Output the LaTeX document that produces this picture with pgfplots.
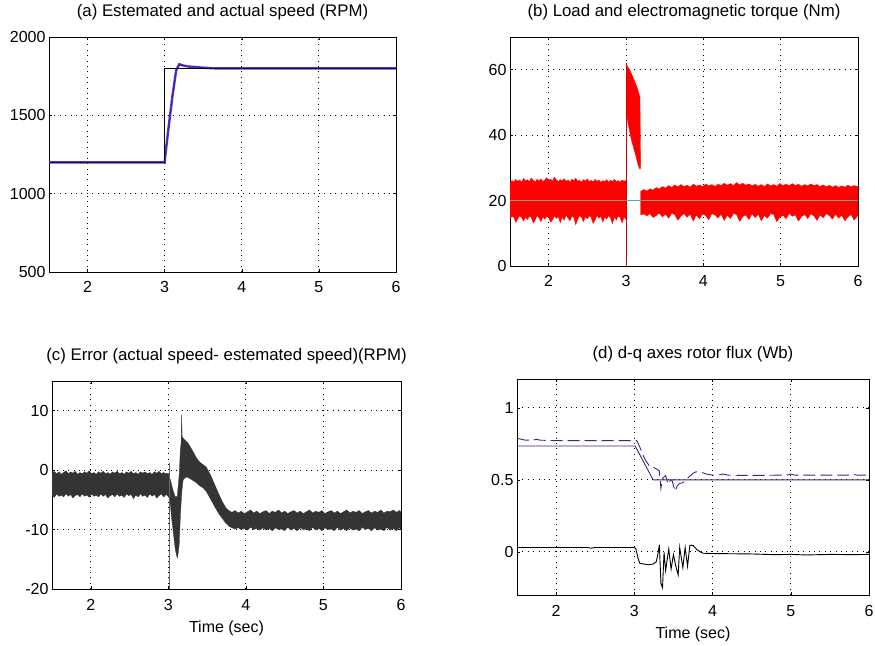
\documentclass[border=0pt]{standalone}
\usepackage{fontspec}
\setmainfont{Liberation Sans}
\usepackage{pgfplots}
\pgfplotsset{compat=1.18}
\definecolor{spd}{RGB}{95,45,205}
\definecolor{est}{RGB}{40,40,150}
\definecolor{loadc}{RGB}{95,165,165}
\definecolor{errc}{RGB}{52,52,52}
\definecolor{fluxc}{RGB}{45,45,130}
\newcommand{\fs}{\fontsize{16}{19}\selectfont}
\newcommand{\ft}{\fontsize{16.8}{20}\selectfont}
\pgfplotsset{
  matlab/.style={
    scale only axis,
    anchor=south west,
    font=\fs,
    tick label style={font=\fs},
    xmin=1.5, xmax=6,
    xtick={2,3,4,5,6},
    xticklabels={2,3,4,5,6},
    xticklabel style={anchor=base, yshift=-21pt},
    grid=major,
    grid style={black, line width=0.8pt, dash pattern=on 0.8pt off 4.6pt},
    tick align=inside,
    major tick length=3pt,
    tick style={black, line width=0.5pt},
    axis line style={black, line width=0.6pt},
    title style={at={(0.5,1)}, anchor=base, yshift=14pt, font=\ft},
    xlabel style={at={(0.5,0)}, anchor=base, yshift=-43pt, font=\fs},
  }
}
\begin{document}
\begin{tikzpicture}[x=1pt,y=1pt]
\useasboundingbox (0,0) rectangle (875,645);
% (a)
\begin{axis}[matlab, at={(49pt,373pt)}, width=347pt, height=235pt,
  ymin=500, ymax=2000, ytick={500,1000,1500,2000},
  yticklabels={500,1000,1500,2000},
  title={(a) Estemated and actual speed (RPM)}]
\addplot[spd, line width=2.4pt] coordinates {
(1.5,1200)(3.0,1200)(3.01,1250)(3.05,1420)(3.10,1620)(3.15,1790)(3.19,1826)(3.24,1818)(3.30,1812)(3.40,1808)(3.50,1804)(3.65,1800)(6.0,1800)};
\addplot[black, line width=0.7pt] coordinates {(1.5,1200)(3.0,1200)(3.0,1800)(6.0,1800)};
\addplot[est, line width=0.8pt, dash pattern=on 3pt off 1pt] coordinates {
(1.5,1200)(3.0,1200)(3.01,1250)(3.05,1420)(3.10,1620)(3.15,1790)(3.19,1826)(3.24,1818)(3.30,1812)(3.40,1808)(3.50,1804)(3.65,1800)(6.0,1800)};
\end{axis}
% (b)
\begin{axis}[matlab, at={(510pt,379pt)}, width=348pt, height=229pt,
  ymin=0, ymax=70, ytick={0,20,40,60}, yticklabels={0,20,40,60},
  title={(b) Load and electromagnetic torque (Nm)}]
\addplot[fill=red, draw=red, line width=0.3pt] coordinates {
(1.500,25.4)(1.525,26.1)(1.550,25.7)(1.575,26.5)(1.600,25.9)(1.625,26.3)(1.650,25.6)(1.675,26.8)(1.700,26.0)(1.725,26.4)
(1.750,25.8)(1.775,26.9)(1.800,26.2)(1.825,25.7)(1.850,26.5)(1.875,26.0)(1.900,26.6)(1.925,25.8)(1.950,26.3)(1.975,27.0)
(2.000,26.1)(2.025,26.6)(2.050,25.9)(2.075,27.2)(2.100,26.3)(2.125,25.8)(2.150,26.4)(2.175,26.0)(2.200,26.7)(2.225,25.9)
(2.250,26.3)(2.275,25.7)(2.300,26.5)(2.325,26.1)(2.350,26.8)(2.375,25.9)(2.400,26.2)(2.425,25.6)(2.450,26.4)(2.475,26.0)
(2.500,26.6)(2.525,25.8)(2.550,26.2)(2.575,25.7)(2.600,26.5)(2.625,25.9)(2.650,26.3)(2.675,25.6)(2.700,26.1)(2.725,25.8)
(2.750,26.4)(2.775,25.7)(2.800,26.2)(2.825,25.9)(2.850,26.5)(2.875,25.8)(2.900,26.1)(2.925,25.6)(2.950,26.3)(2.975,25.9)(3.000,26.2)
(3.000,14.2)(2.975,15.0)(2.950,13.1)(2.925,14.8)(2.900,15.3)(2.875,14.0)(2.850,15.1)(2.825,12.9)(2.800,14.7)(2.775,15.4)
(2.750,14.3)(2.725,15.0)(2.700,13.4)(2.675,15.2)(2.650,14.6)(2.625,15.5)(2.600,14.1)(2.575,13.0)(2.550,14.9)(2.525,15.3)
(2.500,14.4)(2.475,15.1)(2.450,13.6)(2.425,14.8)(2.400,15.4)(2.375,14.2)(2.350,12.6)(2.325,14.9)(2.300,15.2)(2.275,13.8)
(2.250,14.7)(2.225,15.5)(2.200,14.0)(2.175,14.9)(2.150,13.2)(2.125,15.1)(2.100,14.5)(2.075,15.3)(2.050,14.1)(2.025,13.4)
(2.000,14.8)(1.975,15.2)(1.950,14.3)(1.925,15.0)(1.900,13.5)(1.875,14.7)(1.850,15.4)(1.825,14.0)(1.800,13.1)(1.775,14.9)
(1.750,15.2)(1.725,14.2)(1.700,15.0)(1.675,13.7)(1.650,14.8)(1.625,15.3)(1.600,14.4)(1.575,13.3)(1.550,14.9)(1.525,15.1)(1.500,14.6)} -- cycle;
\addplot[fill=red, draw=red, line width=0.3pt] coordinates {
(3.005,61.8)(3.02,61.0)(3.05,59.8)(3.08,58.3)(3.11,56.5)(3.14,54.8)(3.17,52.5)(3.18,51.8)(3.19,30.0)
(3.18,29.6)(3.16,30.6)(3.13,33.4)(3.10,36.0)(3.07,38.5)(3.04,42.0)(3.02,44.5)(3.005,46.5)} -- cycle;
\addplot[fill=red, draw=red, line width=0.3pt] coordinates {
(3.19,22.8)(3.23,23.4)(3.27,22.9)(3.31,23.6)(3.35,23.2)(3.39,24.0)(3.43,23.5)(3.47,24.3)(3.51,23.8)(3.55,24.6)
(3.59,24.0)(3.63,24.8)(3.67,24.2)(3.71,24.9)(3.75,24.3)(3.79,24.7)(3.83,24.1)(3.87,25.0)(3.91,24.4)(3.95,24.8)
(3.99,24.2)(4.03,25.1)(4.07,24.5)(4.11,24.9)(4.15,24.3)(4.19,25.0)(4.23,24.6)(4.27,25.3)(4.31,24.7)(4.35,25.2)
(4.39,24.6)(4.43,25.5)(4.47,24.8)(4.51,25.3)(4.55,24.7)(4.59,25.1)(4.63,24.5)(4.67,25.0)(4.71,24.4)(4.75,24.9)
(4.79,24.3)(4.83,25.1)(4.87,24.5)(4.91,24.9)(4.95,24.4)(4.99,25.2)(5.03,24.6)(5.07,25.0)(5.11,24.5)(5.15,25.2)
(5.19,24.6)(5.23,25.0)(5.27,24.4)(5.31,24.9)(5.35,24.5)(5.39,25.1)(5.43,24.6)(5.47,24.9)(5.51,24.3)(5.55,24.8)
(5.59,24.2)(5.63,24.7)(5.67,24.1)(5.71,24.6)(5.75,24.0)(5.79,24.5)(5.83,24.1)(5.87,24.7)(5.91,24.2)(5.95,24.6)(5.99,24.3)(6.00,24.4)
(6.00,15.6)(5.99,15.2)(5.95,14.0)(5.91,15.7)(5.87,15.0)(5.83,13.8)(5.79,15.5)(5.75,14.6)(5.71,15.8)(5.67,14.3)
(5.63,15.4)(5.59,16.0)(5.55,14.7)(5.51,15.6)(5.47,13.9)(5.43,15.3)(5.39,15.9)(5.35,14.5)(5.31,15.7)(5.27,15.1)
(5.23,13.7)(5.19,15.6)(5.15,15.2)(5.11,16.1)(5.07,14.4)(5.03,15.5)(4.99,14.9)(4.95,13.5)(4.91,15.7)(4.87,16.0)
(4.83,14.6)(4.79,15.4)(4.75,13.8)(4.71,15.8)(4.67,14.8)(4.63,15.9)(4.59,14.2)(4.55,15.6)(4.51,15.1)(4.47,13.6)
(4.43,15.7)(4.39,16.1)(4.35,14.5)(4.31,15.5)(4.27,13.9)(4.23,15.8)(4.19,14.7)(4.15,15.6)(4.11,16.0)(4.07,14.1)
(4.03,15.4)(3.99,15.9)(3.95,14.4)(3.91,15.6)(3.87,13.7)(3.83,15.8)(3.79,14.9)(3.75,16.0)(3.71,15.2)(3.67,14.0)
(3.63,15.7)(3.59,16.1)(3.55,14.6)(3.51,15.8)(3.47,15.0)(3.43,16.2)(3.39,15.4)(3.35,14.8)(3.31,16.0)(3.27,15.3)(3.23,15.9)(3.19,15.6)} -- cycle;
\addplot[red!85!black, line width=0.8pt] coordinates {(3.0,0)(3.0,62)};
\addplot[loadc, line width=0.9pt] coordinates {(1.5,20)(6.0,20)};
\end{axis}
% (c)
\begin{axis}[matlab, at={(52pt,56pt)}, width=349pt, height=208pt,
  ymin=-20, ymax=15, ytick={-20,-10,0,10}, yticklabels={-20,-10,0,10},
  title={(c) Error (actual speed- estemated speed)(RPM)},
  xlabel={Time (sec)}]
\addplot[fill=errc, draw=errc, line width=0.3pt] coordinates {
(1.50,-0.5)(1.53,-0.2)(1.56,-0.6)(1.59,-0.3)(1.62,-0.7)(1.65,-0.4)(1.68,-0.1)(1.71,-0.6)(1.74,-0.3)(1.77,-0.5)
(1.80,-0.2)(1.83,-0.7)(1.86,-0.4)(1.89,-0.6)(1.92,-0.3)(1.95,-0.5)(1.98,-0.1)(2.01,-0.6)(2.04,-0.4)(2.07,-0.7)
(2.10,-0.3)(2.13,-0.5)(2.16,-0.2)(2.19,-0.6)(2.22,-0.4)(2.25,-0.7)(2.28,-0.3)(2.31,-0.5)(2.34,-0.2)(2.37,-0.6)
(2.40,-0.4)(2.43,-0.7)(2.46,-0.3)(2.49,-0.5)(2.52,-0.2)(2.55,-0.6)(2.58,-0.4)(2.61,-0.7)(2.64,-0.3)(2.67,-0.5)
(2.70,-0.3)(2.73,-0.6)(2.76,-0.4)(2.79,-0.7)(2.82,-0.3)(2.85,-0.5)(2.88,-0.2)(2.91,-0.6)(2.94,-0.4)(2.97,-0.6)(3.00,-0.5)
(3.03,-1.8)(3.06,-3.4)(3.09,-4.5)(3.115,-4.4)(3.14,-0.8)(3.155,3.5)(3.165,4.6)(3.172,9.4)(3.178,5.6)
(3.19,5.4)(3.22,5.0)(3.25,4.6)(3.28,4.0)(3.32,3.1)(3.36,2.1)(3.40,1.4)(3.45,0.9)(3.49,0.5)(3.55,-1.0)
(3.60,-2.5)(3.65,-4.0)(3.70,-5.4)(3.74,-6.3)(3.78,-6.8)
(3.82,-7.1)(3.86,-6.8)(3.90,-7.2)(3.94,-6.9)(3.98,-7.3)(4.02,-7.0)(4.06,-6.7)(4.10,-7.2)(4.14,-6.9)(4.18,-7.3)
(4.22,-7.0)(4.26,-6.8)(4.30,-7.3)(4.34,-6.9)(4.38,-7.1)(4.42,-6.7)(4.46,-7.2)(4.50,-6.9)(4.54,-7.3)(4.58,-7.0)
(4.62,-6.8)(4.66,-7.2)(4.70,-6.9)(4.74,-7.3)(4.78,-7.0)(4.82,-6.7)(4.86,-7.2)(4.90,-6.9)(4.94,-7.1)(4.98,-6.8)
(5.02,-7.3)(5.06,-7.0)(5.10,-6.8)(5.14,-7.2)(5.18,-6.9)(5.22,-7.3)(5.26,-7.0)(5.30,-6.7)(5.34,-7.2)(5.38,-6.9)
(5.42,-7.1)(5.46,-6.8)(5.50,-7.3)(5.54,-7.0)(5.58,-6.8)(5.62,-7.2)(5.66,-6.9)(5.70,-7.1)(5.74,-6.7)(5.78,-7.2)
(5.82,-6.9)(5.86,-7.0)(5.90,-6.7)(5.94,-7.1)(5.98,-6.8)(6.00,-7.0)
(6.00,-10.0)(5.98,-9.7)(5.94,-10.2)(5.90,-9.8)(5.86,-10.1)(5.82,-9.6)(5.78,-10.2)(5.74,-9.9)(5.70,-10.1)(5.66,-9.7)
(5.62,-10.2)(5.58,-9.8)(5.54,-10.0)(5.50,-9.6)(5.46,-10.2)(5.42,-9.9)(5.38,-10.1)(5.34,-9.7)(5.30,-10.2)(5.26,-9.8)
(5.22,-10.1)(5.18,-9.6)(5.14,-10.2)(5.10,-9.9)(5.06,-10.0)(5.02,-9.7)(4.98,-10.2)(4.94,-9.8)(4.90,-10.1)(4.86,-9.6)
(4.82,-10.2)(4.78,-9.9)(4.74,-10.0)(4.70,-9.7)(4.66,-10.2)(4.62,-9.8)(4.58,-10.1)(4.54,-9.6)(4.50,-10.2)(4.46,-9.9)
(4.42,-10.0)(4.38,-9.7)(4.34,-10.2)(4.30,-9.8)(4.26,-10.1)(4.22,-9.7)(4.18,-10.1)(4.14,-9.8)(4.10,-10.0)(4.06,-9.6)
(4.02,-10.1)(3.98,-9.8)(3.94,-10.0)(3.90,-9.7)(3.86,-9.9)(3.82,-9.7)
(3.78,-9.4)(3.74,-8.9)(3.70,-8.2)(3.65,-7.3)(3.60,-6.2)(3.55,-5.0)
(3.49,-3.6)(3.45,-3.0)(3.40,-2.6)(3.35,-2.0)(3.30,-1.6)(3.25,-1.2)(3.22,-1.2)(3.19,-1.7)(3.175,-3.5)(3.165,-5.5)
(3.155,-7.8)(3.14,-12.5)(3.125,-14.2)(3.115,-14.8)(3.10,-14.0)(3.085,-12.9)(3.06,-10.0)(3.04,-7.8)(3.02,-5.0)(3.00,-4.4)
(2.97,-4.1)(2.94,-4.5)(2.91,-4.0)(2.88,-4.3)(2.85,-4.7)(2.82,-4.1)(2.79,-4.4)(2.76,-4.0)(2.73,-4.6)(2.70,-4.2)
(2.67,-4.4)(2.64,-4.0)(2.61,-4.5)(2.58,-4.2)(2.55,-4.8)(2.52,-4.1)(2.49,-4.3)(2.46,-4.0)(2.43,-4.6)(2.40,-4.2)
(2.37,-4.4)(2.34,-4.0)(2.31,-4.5)(2.28,-4.1)(2.25,-4.3)(2.22,-4.7)(2.19,-4.1)(2.16,-4.4)(2.13,-4.0)(2.10,-4.5)
(2.07,-4.2)(2.04,-4.4)(2.01,-4.0)(1.98,-4.6)(1.95,-4.2)(1.92,-4.4)(1.89,-4.0)(1.86,-4.5)(1.83,-4.1)(1.80,-4.3)
(1.77,-4.7)(1.74,-4.1)(1.71,-4.4)(1.68,-4.0)(1.65,-4.5)(1.62,-4.2)(1.59,-4.4)(1.56,-4.0)(1.53,-4.6)(1.50,-4.2)} -- cycle;
\addplot[gray!80!black, line width=0.8pt] coordinates {(3.01,-20)(3.01,1.2)};
\end{axis}
% (d)
\begin{axis}[matlab, at={(517pt,50pt)}, width=352pt, height=216pt,
  ymin=-0.3, ymax=1.2, ytick={0,0.5,1}, yticklabels={0,0.5,1},
  title={(d) d-q axes rotor flux (Wb)},
  xlabel={Time (sec)}]
\addplot[fluxc, line width=0.9pt] coordinates {(1.5,0.735)(3.01,0.735)(3.24,0.5)(6.0,0.5)};
\addplot[fluxc, line width=0.9pt, dash pattern=on 12pt off 5pt] coordinates {
(1.5,0.788)(1.55,0.782)(1.6,0.776)(1.7,0.775)(1.75,0.781)(1.8,0.775)(2.0,0.772)(3.03,0.772)(3.06,0.74)
(3.09,0.70)(3.12,0.66)(3.15,0.63)(3.20,0.59)(3.25,0.585)(3.30,0.57)(3.32,0.56)(3.34,0.44)(3.36,0.51)
(3.40,0.53)(3.43,0.47)(3.45,0.49)(3.48,0.50)(3.52,0.42)(3.55,0.46)(3.58,0.475)(3.62,0.48)(3.66,0.50)
(3.70,0.52)(3.75,0.545)(3.79,0.556)(3.83,0.55)(3.87,0.55)(3.92,0.54)(4.00,0.533)(4.10,0.535)(4.13,0.54)
(4.20,0.532)(4.50,0.530)(4.95,0.533)(5.00,0.540)(5.05,0.532)(5.75,0.533)(5.80,0.538)(5.85,0.532)(6.0,0.533)};
\addplot[black, line width=0.9pt] coordinates {
(1.5,0.03)(2.4,0.03)(2.45,0.025)(2.5,0.03)(3.0,0.03)(3.02,0.02)(3.05,-0.05)(3.07,-0.08)(3.12,-0.085)(3.18,-0.09)
(3.24,-0.085)(3.28,-0.07)(3.30,-0.02)(3.32,0.05)(3.34,-0.22)(3.36,-0.25)(3.38,-0.005)(3.40,-0.13)(3.44,0.02)
(3.47,-0.12)(3.50,-0.02)(3.53,-0.10)(3.56,-0.16)(3.58,0.03)(3.62,-0.11)(3.65,0.03)(3.68,-0.10)(3.71,0.045)
(3.75,0.045)(3.80,0.015)(3.84,0.0)(3.88,-0.01)(4.0,-0.012)(4.5,-0.015)(4.8,-0.02)(5.0,-0.018)(5.2,-0.022)
(5.5,-0.018)(5.8,-0.02)(6.0,-0.018)};
\end{axis}
\end{tikzpicture}
\end{document}
